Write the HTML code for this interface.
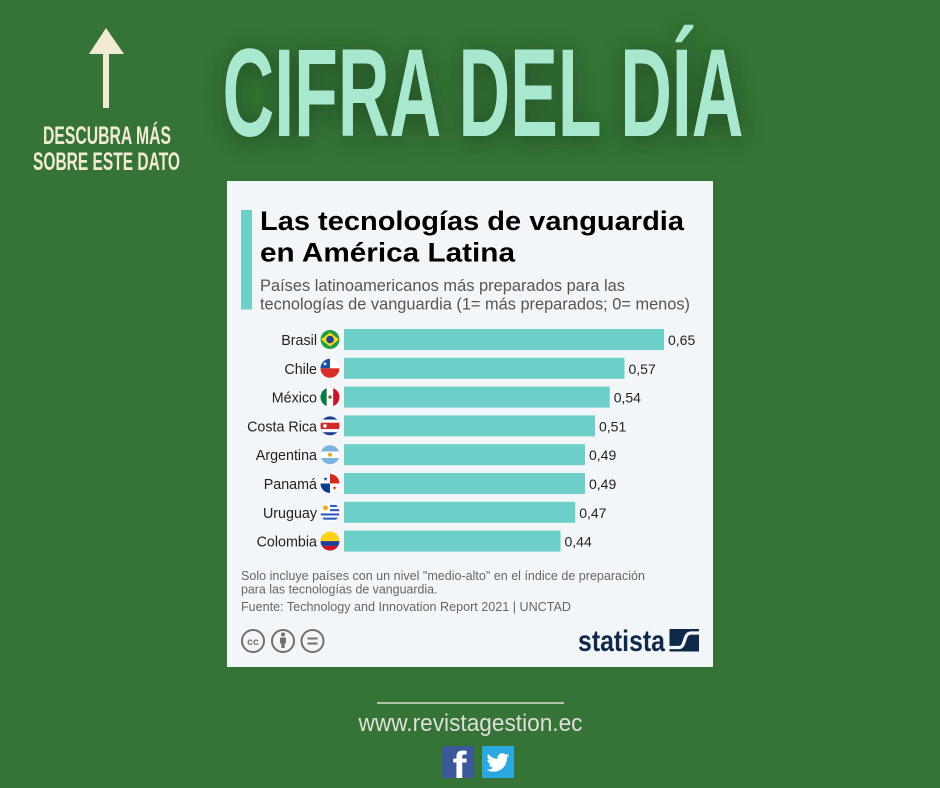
<!DOCTYPE html>
<html><head><meta charset="utf-8"><style>
html,body{margin:0;padding:0;background:#357436;}
svg{display:block;}
text{font-family:"Liberation Sans",sans-serif;}
</style></head><body>
<svg width="940" height="788" viewBox="0 0 940 788" xmlns="http://www.w3.org/2000/svg">
<defs>
<filter id="glow" x="-20%" y="-60%" width="140%" height="220%"><feGaussianBlur stdDeviation="12"/></filter>
<clipPath id="fc"><circle cx="0" cy="0" r="9.5"/></clipPath>
<clipPath id="fbc"><rect x="442" y="746" width="32" height="32"/></clipPath>
</defs>
<rect width="940" height="788" fill="#357436"/>

<!-- arrow -->
<polygon points="106,28 89,54 124,54" fill="#f1ebd3"/>
<rect x="103" y="53" width="6" height="55" fill="#f1ebd3"/>
<text x="43" y="144" font-size="25" font-weight="bold" fill="#f1ebd3" textLength="128" lengthAdjust="spacingAndGlyphs">DESCUBRA MÁS</text>
<text x="33" y="170" font-size="25" font-weight="bold" fill="#f1ebd3" textLength="147" lengthAdjust="spacingAndGlyphs">SOBRE ESTE DATO</text>

<!-- title -->
<text x="222.5" y="140" font-size="125" font-weight="bold" fill="#1a3f1d" opacity="0.85" filter="url(#glow)" textLength="521" lengthAdjust="spacingAndGlyphs">CIFRA DEL DÍA</text>
<text x="222.5" y="136" font-size="125" font-weight="bold" fill="#a8e8cf" textLength="521" lengthAdjust="spacingAndGlyphs">CIFRA DEL DÍA</text>

<!-- card -->
<rect x="227" y="181" width="486" height="486" fill="#f3f6f9"/>
<rect x="241" y="210" width="11" height="99.5" fill="#6dcfc8"/>
<text x="260" y="230" font-size="27" font-weight="bold" fill="#000" textLength="424" lengthAdjust="spacingAndGlyphs">Las tecnologías de vanguardia</text>
<text x="260" y="261.5" font-size="27" font-weight="bold" fill="#000" textLength="255" lengthAdjust="spacingAndGlyphs">en América Latina</text>
<text x="260" y="291" font-size="16.5" fill="#555" textLength="365" lengthAdjust="spacingAndGlyphs">Países latinoamericanos más preparados para las</text>
<text x="260" y="309.3" font-size="16.5" fill="#555" textLength="430" lengthAdjust="spacingAndGlyphs">tecnologías de vanguardia (1= más preparados; 0= menos)</text>

<!-- bars -->
<g fill="#6ccfc8">
<rect x="344" y="329" width="320" height="21"/>
<rect x="344" y="357.8" width="280.5" height="21"/>
<rect x="344" y="386.6" width="265.7" height="21"/>
<rect x="344" y="415.4" width="251" height="21"/>
<rect x="344" y="444.2" width="241" height="21"/>
<rect x="344" y="473" width="241" height="21"/>
<rect x="344" y="501.8" width="231.2" height="21"/>
<rect x="344" y="530.6" width="216.5" height="21"/>
</g>
<g font-size="14" fill="#222">
<text x="668" y="345">0,65</text>
<text x="628.5" y="373.8">0,57</text>
<text x="613.7" y="402.6">0,54</text>
<text x="599" y="431.4">0,51</text>
<text x="589" y="460.2">0,49</text>
<text x="589" y="489">0,49</text>
<text x="579.2" y="517.8">0,47</text>
<text x="564.5" y="546.6">0,44</text>
</g>
<g font-size="14.3" fill="#222" text-anchor="end">
<text x="317" y="345">Brasil</text>
<text x="317" y="373.8">Chile</text>
<text x="317" y="402.6">México</text>
<text x="317" y="431.4">Costa Rica</text>
<text x="317" y="460.2">Argentina</text>
<text x="317" y="489">Panamá</text>
<text x="317" y="517.8">Uruguay</text>
<text x="317" y="546.6">Colombia</text>
</g>

<!-- flags -->
<g transform="translate(330,339.5)" clip-path="url(#fc)">
<rect x="-10" y="-10" width="20" height="20" fill="#229e45"/>
<polygon points="0,-7 9,0 0,7 -9,0" fill="#f8d81c"/>
<circle r="3.8" fill="#1f3f8f"/>
</g>
<g transform="translate(330,368.3)" clip-path="url(#fc)">
<rect x="-10" y="-10" width="20" height="10" fill="#fff"/>
<rect x="-10" y="0" width="20" height="10" fill="#d72d24"/>
<rect x="-10" y="-10" width="10" height="10" fill="#1b4fa0"/>
<polygon transform="translate(-5,-4.5)" points="0,-2.2 0.53,-0.73 2.09,-0.68 0.86,0.28 1.29,1.78 0,0.9 -1.29,1.78 -0.86,0.28 -2.09,-0.68 -0.53,-0.73" fill="#fff"/>
</g>
<g transform="translate(330,397.1)" clip-path="url(#fc)">
<rect x="-10" y="-10" width="6.8" height="20" fill="#0a7a45"/>
<rect x="-3.2" y="-10" width="6.4" height="20" fill="#fff"/>
<rect x="3.2" y="-10" width="6.8" height="20" fill="#ce1126"/>
<circle r="1.7" fill="#8b5a2b"/>
</g>
<g transform="translate(330,425.9)" clip-path="url(#fc)">
<rect x="-10" y="-10" width="20" height="20" fill="#1d3f94"/>
<rect x="-10" y="-6.3" width="20" height="12.6" fill="#fff"/>
<rect x="-10" y="-3.2" width="20" height="6.4" fill="#d22a2a"/>
<circle cx="-5" cy="0" r="1.8" fill="#fff"/>
</g>
<g transform="translate(330,454.7)" clip-path="url(#fc)">
<rect x="-10" y="-10" width="20" height="20" fill="#7bb3e0"/>
<rect x="-10" y="-3.2" width="20" height="6.4" fill="#fff"/>
<circle r="2" fill="#e8a825"/>
</g>
<g transform="translate(330,483.5)" clip-path="url(#fc)">
<rect x="-10" y="-10" width="20" height="20" fill="#fff"/>
<rect x="0" y="-10" width="10" height="10" fill="#d52b1e"/>
<rect x="-10" y="0" width="10" height="10" fill="#0b3d91"/>
<polygon transform="translate(-4.5,-4.5)" points="0,-2.2 0.53,-0.73 2.09,-0.68 0.86,0.28 1.29,1.78 0,0.9 -1.29,1.78 -0.86,0.28 -2.09,-0.68 -0.53,-0.73" fill="#0b3d91"/>
<polygon transform="translate(4.5,4.5)" points="0,-2.2 0.53,-0.73 2.09,-0.68 0.86,0.28 1.29,1.78 0,0.9 -1.29,1.78 -0.86,0.28 -2.09,-0.68 -0.53,-0.73" fill="#d52b1e"/>
</g>
<g transform="translate(330,512.3)" clip-path="url(#fc)">
<rect x="-10" y="-10" width="20" height="20" fill="#fff"/>
<rect x="0" y="-7.4" width="10" height="2.1" fill="#2a5bb8"/>
<rect x="0" y="-3.2" width="10" height="2.1" fill="#2a5bb8"/>
<rect x="-10" y="1.1" width="20" height="2.1" fill="#2a5bb8"/>
<rect x="-10" y="5.3" width="20" height="2.1" fill="#2a5bb8"/>
<circle cx="-4.5" cy="-4.5" r="2.6" fill="#e9ae2a"/>
</g>
<g transform="translate(330,541.1)" clip-path="url(#fc)">
<rect x="-10" y="-10" width="20" height="10" fill="#fcd116"/>
<rect x="-10" y="0" width="20" height="4.8" fill="#1d3f94"/>
<rect x="-10" y="4.8" width="20" height="6" fill="#ce1126"/>
</g>

<!-- footnotes -->
<g font-size="13" fill="#666">
<text x="241" y="580" textLength="404" lengthAdjust="spacingAndGlyphs">Solo incluye países con un nivel "medio-alto" en el índice de preparación</text>
<text x="241" y="593.5" textLength="196.5" lengthAdjust="spacingAndGlyphs">para las tecnologías de vanguardia.</text>
<text x="241" y="611" textLength="330" lengthAdjust="spacingAndGlyphs">Fuente: Technology and Innovation Report 2021 | UNCTAD</text>
</g>

<!-- cc icons -->
<g fill="none" stroke="#707070" stroke-width="2">
<circle cx="253" cy="641" r="11"/>
<circle cx="283" cy="641" r="11"/>
<circle cx="312.5" cy="641" r="11"/>
<line x1="307.5" y1="638.5" x2="317.5" y2="638.5"/>
<line x1="307.5" y1="643.5" x2="317.5" y2="643.5"/>
</g>
<text x="253" y="645" font-size="10.5" font-weight="bold" fill="#707070" text-anchor="middle">cc</text>
<circle cx="283" cy="634.5" r="2" fill="#707070"/>
<rect x="280" y="637.5" width="6" height="6" rx="1" fill="#707070"/>
<rect x="281.3" y="642" width="3.4" height="6" fill="#707070"/>

<!-- statista -->
<text x="578" y="651" font-size="30" font-weight="bold" fill="#0f2a48" textLength="87" lengthAdjust="spacingAndGlyphs">statista</text>
<rect x="669.5" y="629" width="29.5" height="22.5" fill="#0f2a48"/>
<path d="M669,647.5 L679,647.5 C686,647.5 683,633 691,633 L700,633" fill="none" stroke="#f3f6f9" stroke-width="3.2"/>

<!-- bottom -->
<line x1="377" y1="703" x2="564" y2="703" stroke="#dcdcd4" stroke-width="1.6"/>
<text x="358.5" y="731" font-size="24" fill="#dedfd8" textLength="224" lengthAdjust="spacingAndGlyphs">www.revistagestion.ec</text>
<rect x="442" y="746" width="32" height="32" fill="#3b5998"/>
<text x="452.5" y="781" font-size="42" font-weight="bold" fill="#fff" clip-path="url(#fbc)">f</text>
<rect x="482" y="746" width="32" height="32" fill="#2ba8e0"/>
<path transform="translate(486.5,751) scale(0.95)" fill="#fff" d="M23.95 4.57a10 10 0 0 1-2.82.77 4.96 4.96 0 0 0 2.16-2.72c-.95.56-2 .96-3.12 1.19a4.92 4.92 0 0 0-8.380 4.48A13.93 13.93 0 0 1 1.64 3.16a4.92 4.92 0 0 0 1.52 6.57 4.9 4.9 0 0 1-2.23-.61v.06a4.92 4.92 0 0 0 3.95 4.83 4.99 4.99 0 0 1-2.22.08 4.93 4.93 0 0 0 4.6 3.42A9.87 9.87 0 0 1 0 19.54a13.94 13.94 0 0 0 7.55 2.21c9.05 0 14-7.5 14-13.98 0-.21 0-.42-.02-.63A9.94 9.94 0 0 0 24 4.59z"/>
</svg>
</body></html>
